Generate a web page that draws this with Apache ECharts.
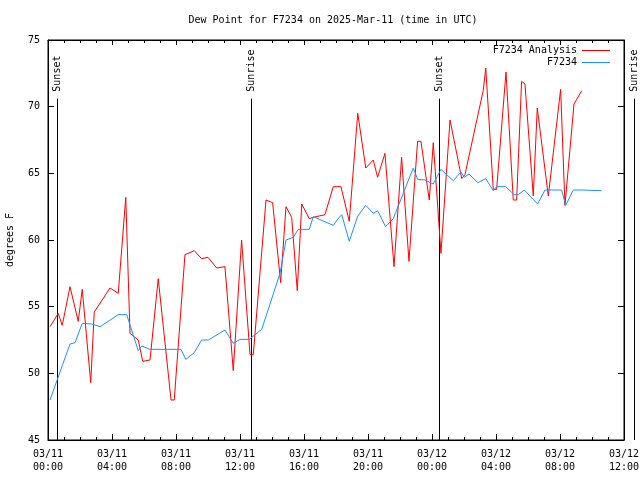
<!DOCTYPE html>
<html><head><meta charset="utf-8">
<script src="https://cdn.jsdelivr.net/npm/echarts@6/dist/echarts.min.js"></script>
<style>html,body{margin:0;padding:0;background:#fff}#c{width:640px;height:480px}</style>
</head><body><div id="c"></div>
<script>
const FONT = 'DejaVu Sans Mono';
const titleText = 'Dew Point for F7234 on 2025-Mar-11 (time in UTC)';
const seriesNames = ['F7234 Analysis', 'F7234'];
const seriesColors = ['#ff0000', '#1e90ff'];
const yAxisName = 'degrees F';
const xTickLabels = ['03/11\n00:00','03/11\n04:00','03/11\n08:00','03/11\n12:00','03/11\n16:00','03/11\n20:00','03/12\n00:00','03/12\n04:00','03/12\n08:00','03/12\n12:00'];

// hours since 2025-03-11 00:00 UTC
const analysisHours = [0.125,0.64,0.89,1.375,1.89,2.14,2.67,2.89,3.875,4.39,4.86,5.125,5.64,5.92,6.375,6.89,7.69,7.89,8.56,9.14,9.6,10.0,10.54,11.06,11.58,12.1,12.625,12.83,13.625,14.04,14.54,14.875,15.23,15.58,15.86,16.33,16.58,17.31,17.83,18.31,18.83,19.36,19.86,20.33,20.6,21.06,21.625,22.1,22.56,23.1,23.31,23.83,24.08,24.56,25.125,25.86,26.06,27.2,27.36,27.83,28.04,28.625,29.08,29.29,29.6,29.81,30.33,30.58,31.27,32.04,32.31,32.875,33.36];
const analysisValues = [53.5,54.5,53.6,56.5,53.9,56.3,49.3,54.6,56.4,56.0,63.2,53.0,52.5,50.9,51.0,57.1,48.0,48.0,58.9,59.2,58.6,58.7,57.9,58.0,50.2,60.0,51.4,51.4,63.0,62.8,56.8,62.5,61.7,56.2,62.7,61.6,61.7,61.9,64.0,64.0,61.4,69.5,65.4,66.0,64.7,66.5,58.0,66.2,58.4,67.4,67.4,63.0,67.3,59.0,69.0,64.6,64.9,71.2,72.9,63.8,63.8,72.6,63.0,63.0,71.9,71.7,63.3,69.9,63.3,71.3,62.6,70.2,71.2];

const obsHours = [0.125,1.375,1.69,2.14,2.73,3.25,4.39,4.92,5.64,5.86,6.375,8.31,8.61,9.14,9.6,10.02,11.06,11.58,12.0,12.58,13.36,14.5,14.875,15.33,15.64,16.33,16.58,17.83,18.2,18.36,18.83,19.36,19.86,20.33,20.6,21.1,21.58,22.83,23.1,23.56,24.08,24.56,25.33,25.81,26.02,26.31,26.86,27.36,27.83,28.04,28.6,29.14,29.39,29.77,30.6,31.06,32.1,32.36,32.83,33.39,34.6];
const obsValues = [48.0,52.2,52.3,53.75,53.7,53.5,54.4,54.4,51.7,52.05,51.8,51.8,51.05,51.55,52.5,52.5,53.25,52.25,52.55,52.55,53.3,57.5,60.0,60.2,60.8,60.8,61.75,61.1,61.7,61.9,59.9,61.8,62.6,62.0,62.2,61.0,61.6,65.4,64.55,64.5,64.2,65.3,64.45,65.1,64.7,64.95,64.3,64.6,63.7,64.0,64.0,63.4,63.4,63.75,62.7,63.75,63.75,62.6,63.75,63.75,63.7];

const sunEventNames = ['Sunset','Sunrise','Sunset','Sunrise'];
const sunEventHours = [0.54, 12.71, 24.46, 36.65];
const sunLineTop = 70.6;

function pairs(xs, ys){ return xs.map((x,i)=>[x, ys[i]]); }

const chart = echarts.init(document.getElementById('c'), null, {renderer:'canvas'});
const txt = {fontFamily: FONT, fontSize: 10, color: '#000'};
const tickCommon = {
  axisLine: {show: true, onZero: false, lineStyle: {color: '#000', width: 1}},
  splitLine: {show: false},
};
chart.setOption({
  animation: false,
  backgroundColor: '#fff',
  title: {text: titleText, left: 328, textAlign: 'center', top: 10, textStyle: Object.assign({fontWeight: 'normal'}, txt)},
  legend: {
    orient: 'vertical', right: 25, top: 40, align: 'right',
    icon: 'rect', itemWidth: 28, itemHeight: 1, itemGap: 1,
    textStyle: Object.assign({lineHeight: 11}, txt), data: seriesNames
  },
  grid: {left: 48, right: 16, top: 40, bottom: 40, containLabel: false, outerBoundsMode: 'none',
         show: true, borderColor: '#000', borderWidth: 1},
  xAxis: [
    Object.assign({type: 'value', min: 0, max: 36, interval: 4,
      axisTick: {show: true, inside: true, length: 6, lineStyle: {color: '#000'}},
      minorTick: {show: true, splitNumber: 4, length: 3, lineStyle: {color: '#000'}},
      axisLabel: Object.assign({formatter: v => xTickLabels[Math.round(v/4)], margin: 8, lineHeight: 13, hideOverlap: false}, txt)
    }, tickCommon),
    Object.assign({type: 'value', position: 'top', min: 0, max: 36, interval: 4,
      axisTick: {show: true, inside: true, length: 5, lineStyle: {color: '#000'}},
      minorTick: {show: true, splitNumber: 4, length: 3, lineStyle: {color: '#000'}},
      axisLabel: {show: false}
    }, tickCommon)
  ],
  yAxis: [
    Object.assign({type: 'value', min: 45, max: 75, interval: 5,
      name: yAxisName, nameLocation: 'middle', nameGap: 33, nameTextStyle: txt,
      axisTick: {show: true, inside: true, length: 6, lineStyle: {color: '#000'}},
      axisLabel: Object.assign({margin: 8}, txt)
    }, tickCommon),
    Object.assign({type: 'value', position: 'right', min: 45, max: 75, interval: 5,
      axisTick: {show: true, inside: true, length: 6, lineStyle: {color: '#000'}},
      axisLabel: {show: false}
    }, tickCommon)
  ],
  series: [
    {name: seriesNames[0], type: 'line', data: pairs(analysisHours, analysisValues), symbol: 'none', showSymbol: false,
     color: seriesColors[0], lineStyle: {width: 1, color: seriesColors[0]}},
    {name: seriesNames[1], type: 'line', data: pairs(obsHours, obsValues), symbol: 'none', showSymbol: false,
     color: seriesColors[1], lineStyle: {width: 1, color: seriesColors[1]}}
  ]
});

const yTop = chart.convertToPixel({yAxisIndex: 0}, sunLineTop);
const yBot = chart.convertToPixel({yAxisIndex: 0}, 45);
const graphics = [];
sunEventHours.forEach((h, i) => {
  const x = Math.round(chart.convertToPixel({xAxisIndex: 0}, h)) + 0.5;
  graphics.push({type: 'line', shape: {x1: x, y1: yTop, x2: x, y2: yBot}, style: {stroke: '#000', lineWidth: 1}, silent: true});
  graphics.push({type: 'text', x: x, y: yTop - 7, rotation: Math.PI/2,
    style: {text: sunEventNames[i], fill: '#000', font: '10px "' + FONT + '"', textAlign: 'left', textVerticalAlign: 'middle'}, silent: true});
});
chart.setOption({graphic: graphics});
</script>
</body></html>
